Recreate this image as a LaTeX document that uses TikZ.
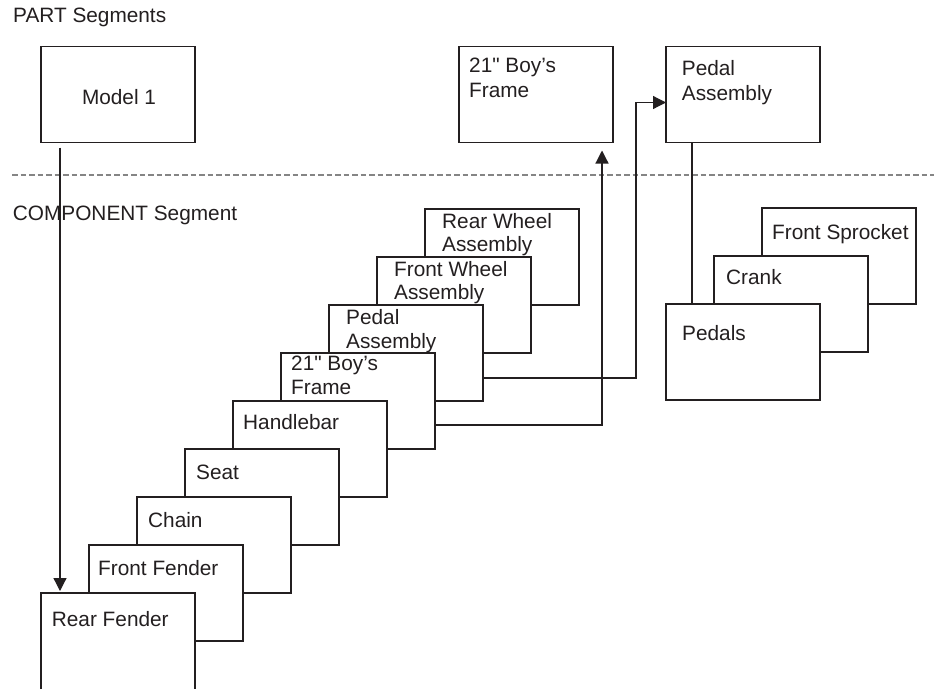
\documentclass[tikz,border=0pt]{standalone}
\usepackage{fontspec}
\setmainfont{Liberation Sans}[Ligatures=TeXOff]
\usetikzlibrary{arrows.meta}
\definecolor{ink}{HTML}{231F20}
\definecolor{dashgray}{HTML}{858585}
\begin{document}
\begin{tikzpicture}[x=1pt,y=-1pt,
  box/.style={draw=ink, line width=1.2pt, fill=white, inner sep=0pt, outer sep=0pt,
    minimum width=154pt, minimum height=96pt, anchor=north west},
  lbl/.style={anchor=base west, inner sep=0pt, text=ink, font=\fontsize{20.8}{25}\selectfont},
  conn/.style={draw=ink, line width=1.2pt},
  arr/.style={conn, -{Triangle[length=13pt,width=13pt]}}
]
\useasboundingbox[fill=white] (0,0) rectangle (934,689);

% section titles and separator
\node[lbl] (tpart) at (13,22.7) {PART Segments};
\node[lbl] (tcomp) at (12.7,220) {COMPONENT Segment};
\coordinate (dl) at (12,175);
\coordinate (dr) at (934,175);
\draw[dashgray, line width=1.1pt, dash pattern=on 5.5pt off 3pt] (dl) -- (dr);

% PART segments
\node[box] (m1) at (41,46.5) {};
\node[lbl, anchor=base] (m1t) at (119,104) {Model 1};
\node[box] (tf) at (459,46.5) {};
\node[lbl] (tf1) at (469,72) {21" Boy’s};
\node[lbl] (tf2) at (469,97) {Frame};
\node[box] (tp) at (666,46.5) {};
\node[lbl] (tp1) at (681.7,75) {Pedal};
\node[lbl] (tp2) at (681.7,100) {Assembly};

% COMPONENT stack (back to front)
\node[box] (rw) at (425,209) {};
\node[lbl] (rw1) at (442,228) {Rear Wheel};
\node[lbl] (rw2) at (442,251) {Assembly};
\node[box] (fw) at (377,257) {};
\node[lbl] (fw1) at (394,276) {Front Wheel};
\node[lbl] (fw2) at (394,299) {Assembly};
\node[box] (pa) at (329,305) {};
\node[lbl] (pa1) at (346,324) {Pedal};
\node[lbl] (pa2) at (346,348) {Assembly};
\node[box] (fr) at (281,353) {};
\node[lbl] (fr1) at (291,370) {21" Boy’s};
\node[lbl] (fr2) at (291,394) {Frame};
\node[box] (hb) at (233,401) {};
\node[lbl] (hbt) at (243,429) {Handlebar};
\node[box] (se) at (185,449) {};
\node[lbl] (set) at (196,479) {Seat};
\node[box] (ch) at (137,497) {};
\node[lbl] (cht) at (148,527) {Chain};
\node[box] (ff) at (89,545) {};
\node[lbl] (fft) at (98,575) {Front Fender};
\node[box, draw=none] (rf) at (41,593) {};
\draw[conn] (rf.south west) -- (rf.north west) -- (rf.north east) -- (rf.south east);
\node[lbl] (rft) at (51.7,626) {Rear Fender};

% right stack
\node[box] (fs) at (762,208) {};
\node[lbl] (fst) at (772,239) {Front Sprocket};
\node[box] (cr) at (714,256) {};
\node[lbl] (crt) at (726,284) {Crank};
\node[box] (pd) at (666,304) {};
\node[lbl] (pdt) at (682,340) {Pedals};

% connectors
\draw[arr] ([xshift=19pt,yshift=-5pt]m1.south west) -- ([xshift=19pt,yshift=2pt]rf.north west);
\draw[arr] ([yshift=-24pt]fr.east) -| ([xshift=-11pt,yshift=-8pt]tf.south east);
\coordinate (pbend) at (636,378);
\draw[arr] ([yshift=-25pt]pa.east) -- (pbend) |- ([yshift=-8pt]tp.west);
\draw[conn] ([xshift=26pt]tp.south west) -- ([xshift=26pt]pd.north west);
\end{tikzpicture}
\end{document}
